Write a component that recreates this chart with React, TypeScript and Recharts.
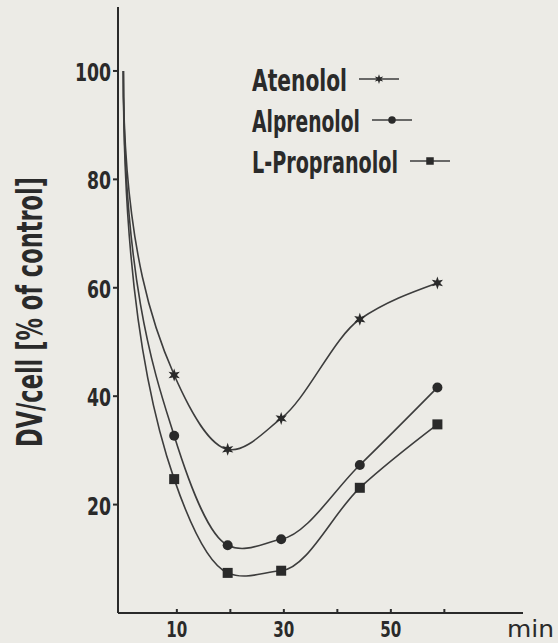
import React from 'react';
import { LineChart, Line, XAxis, YAxis, Legend } from 'recharts';

// Sampling times (min) and DV/cell values (% of control)
const times = [0, 9.5, 19.5, 29.5, 44.2, 58.7];
const atenolol = [100, 43.9, 30.2, 35.9, 54.2, 60.9];
const alprenolol = [100, 32.7, 12.5, 13.6, 27.3, 41.6];
const propranolol = [100, 24.7, 7.4, 7.8, 23.1, 34.8];

const seriesNames = ['Atenolol', 'Alprenolol', 'L-Propranolol'];
const seriesKeys = ['atenolol', 'alprenolol', 'propranolol'];

const xTicks = [10, 20, 30, 40, 50, 60];
const xTickLabels = ['10', '', '30', '', '50', ''];
const yTicks = [20, 40, 60, 80, 100];
const yTickLabels = ['20', '40', '60', '80', '100'];

const xUnit = 'min';
const yTitle = 'DV/cell [% of control]';

const data = times.map((t, i) => ({
  t,
  atenolol: atenolol[i],
  alprenolol: alprenolol[i],
  propranolol: propranolol[i],
}));

const INK = '#2a2a2a';
const LINE = '#3d3d3d';
const BG = '#ecebe6';
const CONDENSED = "'DejaVu Sans Condensed', 'Liberation Sans Narrow', 'DejaVu Sans', sans-serif";

// Hand-drawn style smoothing: the first segment leaves the start point vertically,
// the rest is a softened monotone Hermite spline.
const dropCurve: any = (context: any) => {
  let xs: number[] = [];
  let ys: number[] = [];
  return {
    areaStart() {},
    areaEnd() {},
    lineStart() {
      xs = [];
      ys = [];
    },
    point(x: number, y: number) {
      xs.push(+x);
      ys.push(+y);
    },
    lineEnd() {
      const n = xs.length;
      if (!n) return;
      context.moveTo(xs[0], ys[0]);
      if (n === 1) return;
      const h: number[] = [];
      const s: number[] = [];
      for (let i = 0; i < n - 1; i++) {
        h[i] = xs[i + 1] - xs[i];
        s[i] = (ys[i + 1] - ys[i]) / h[i];
      }
      const m: number[] = new Array(n).fill(0);
      for (let i = 1; i < n - 1; i++) {
        const a = s[i - 1];
        const b = s[i];
        if (a * b > 0) {
          m[i] = (3 * (h[i - 1] + h[i])) / ((2 * h[i] + h[i - 1]) / a + (h[i] + 2 * h[i - 1]) / b);
        } else {
          m[i] = (0.5 * (a * h[i] + b * h[i - 1])) / (h[i - 1] + h[i]);
        }
      }
      m[n - 1] = n > 2 ? (3 * s[n - 2] - m[n - 2]) / 2 : s[0];
      if (m[n - 1] * s[n - 2] < 0) m[n - 1] = 0;
      for (let i = 0; i < n - 1; i++) {
        const d = h[i] / 3;
        const c1x = i === 0 ? xs[0] : xs[i] + d;
        const c1y = i === 0 ? ys[0] + 0.6 * (ys[1] - ys[0]) : ys[i] + m[i] * d;
        const c2x = xs[i + 1] - d;
        const c2y = ys[i + 1] - m[i + 1] * d;
        context.bezierCurveTo(c1x, c1y, c2x, c2y, xs[i + 1], ys[i + 1]);
      }
    },
  };
};

const starPoints = (cx: number, cy: number, ro: number, ri: number) => {
  const pts: string[] = [];
  for (let k = 0; k < 12; k++) {
    const r = k % 2 === 0 ? ro : ri;
    const a = (Math.PI / 6) * k - Math.PI / 2;
    pts.push(`${cx + r * Math.cos(a)},${cy + r * Math.sin(a)}`);
  }
  return pts.join(' ');
};

const Marker = ({ kind, cx, cy, scale = 1 }: { kind: string; cx: number; cy: number; scale?: number }) => {
  if (kind === 'atenolol') {
    return <polygon points={starPoints(cx, cy, 6.5 * scale, 2.8 * scale)} fill={INK} />;
  }
  if (kind === 'alprenolol') {
    return <circle cx={cx} cy={cy} r={5 * scale} fill={INK} />;
  }
  const half = 5 * scale;
  return <rect x={cx - half} y={cy - half} width={half * 2} height={half * 2} fill={INK} />;
};

const makeDot = (kind: string) => (props: any) => {
  const { cx, cy, payload, index } = props;
  if (payload.t === 0 || cx == null || cy == null) return <g key={`${kind}-${index}`} />;
  return (
    <g key={`${kind}-${index}`}>
      <Marker kind={kind} cx={cx} cy={cy} />
    </g>
  );
};

const XTick = (props: any) => {
  const { x, y, payload } = props;
  const idx = xTicks.indexOf(payload.value);
  const label = idx >= 0 ? xTickLabels[idx] : '';
  return (
    <g>
      <line x1={x} y1={y} x2={x} y2={y - 4} stroke={INK} strokeWidth={2} />
      {label && (
        <text
          x={x}
          y={y + 24}
          textAnchor="middle"
          fontFamily={CONDENSED}
          fontWeight="bold"
          fontSize={22}
          fill={INK}
          textLength={21}
          lengthAdjust="spacingAndGlyphs"
        >
          {label}
        </text>
      )}
    </g>
  );
};

const YTick = (props: any) => {
  const { x, y, payload } = props;
  const idx = yTicks.indexOf(payload.value);
  const label = idx >= 0 ? yTickLabels[idx] : '';
  return (
    <g>
      <line x1={x - 5} y1={y} x2={x} y2={y} stroke={INK} strokeWidth={2} />
      <text
        x={x - 7}
        y={y + 10}
        textAnchor="end"
        fontFamily={CONDENSED}
        fontWeight="bold"
        fontSize={24}
        fill={INK}
        textLength={label.length > 2 ? 36 : 24}
        lengthAdjust="spacingAndGlyphs"
      >
        {label}
      </text>
    </g>
  );
};

const legendWidths = [95, 108, 146];

const LegendBlock = (props: any) => {
  const payload: any[] = props.payload || [];
  const ordered = seriesNames
    .map((name) => payload.find((p) => p.value === name))
    .filter(Boolean);
  return (
    <svg width={558} height={200} style={{ display: 'block', overflow: 'visible' }}>
      {ordered.map((entry: any, i: number) => {
        const base = 91 + i * 41;
        const tx = 252;
        const w = legendWidths[i];
        const lx = tx + w + 12;
        const ly = base - 12;
        const kind = seriesKeys[seriesNames.indexOf(entry.value)];
        return (
          <g key={entry.value}>
            <text
              x={tx}
              y={base}
              fontFamily={CONDENSED}
              fontWeight="bold"
              fontSize={30}
              fill={INK}
              textLength={w}
              lengthAdjust="spacingAndGlyphs"
            >
              {entry.value}
            </text>
            <line x1={lx} y1={ly} x2={lx + 40} y2={ly} stroke={LINE} strokeWidth={1.6} />
            <Marker kind={kind} cx={lx + 20} cy={ly} scale={0.75} />
          </g>
        );
      })}
    </svg>
  );
};

const XUnitLabel = (props: any) => {
  const { viewBox } = props;
  const x = viewBox.x + viewBox.width - 16;
  const y = viewBox.y + 24;
  return (
    <text x={x} y={y} fontFamily="'DejaVu Sans', sans-serif" fontSize={23} fill={INK} textLength={47} lengthAdjust="spacingAndGlyphs">
      {xUnit}
    </text>
  );
};

const YTitleLabel = (props: any) => {
  const { viewBox } = props;
  const cx = viewBox.x - 16;
  const cy = viewBox.y + viewBox.height / 2 + 2;
  return (
    <text
      x={cx}
      y={cy}
      transform={`rotate(-90, ${cx}, ${cy})`}
      textAnchor="middle"
      fontFamily={CONDENSED}
      fontWeight="bold"
      fontSize={36}
      fill={INK}
      textLength={270}
      lengthAdjust="spacingAndGlyphs"
    >
      {yTitle}
    </text>
  );
};

export default function App() {
  return (
    <div style={{ position: 'absolute', left: 0, top: 0, width: 558, height: 643, background: BG, overflow: 'hidden' }}>
      <LineChart width={558} height={643} data={data} margin={{ top: 7, right: 35, left: 58, bottom: 0 }}>
        <XAxis
          dataKey="t"
          type="number"
          domain={[-1, 74.7]}
          allowDataOverflow
          ticks={xTicks}
          interval={0}
          height={30}
          tickSize={0}
          tickMargin={0}
          tickLine={false}
          axisLine={{ stroke: INK, strokeWidth: 2 }}
          tick={<XTick />}
          label={{ content: <XUnitLabel /> }}
        />
        <YAxis
          type="number"
          domain={[0, 111.8]}
          allowDataOverflow
          ticks={yTicks}
          interval={0}
          width={60}
          tickSize={0}
          tickMargin={0}
          tickLine={false}
          axisLine={{ stroke: INK, strokeWidth: 2 }}
          tick={<YTick />}
          label={{ content: <YTitleLabel /> }}
        />
        <Legend
          layout="vertical"
          verticalAlign="middle"
          align="center"
          content={<LegendBlock />}
          wrapperStyle={{ left: 0, top: 0, width: 558, height: 200 }}
        />
        {seriesKeys.map((key, i) => (
          <Line
            key={key}
            dataKey={key}
            name={seriesNames[i]}
            type={dropCurve}
            stroke={LINE}
            strokeWidth={1.6}
            dot={makeDot(key)}
            activeDot={false}
            isAnimationActive={false}
          />
        ))}
      </LineChart>
    </div>
  );
}
